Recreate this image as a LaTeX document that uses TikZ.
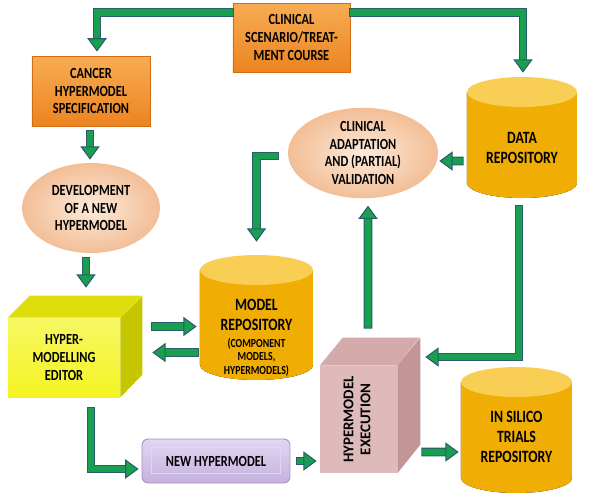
\documentclass[tikz,border=0pt]{standalone}
\usepackage{fontspec}
\setmainfont{Carlito}
\newfontfamily\boxfont[FakeStretch=0.8]{Carlito}
\usetikzlibrary{calc}
\usetikzlibrary{arrows.meta}
\usetikzlibrary{shapes}
\definecolor{FlowGreen}{RGB}{24,160,78}
\definecolor{FlowEdge}{RGB}{44,92,112}
\definecolor{SpecOrange}{RGB}{236,132,32}
\definecolor{SpecOrangeLight}{RGB}{248,172,84}
\definecolor{SpecEdge}{RGB}{208,108,20}
\definecolor{RepoGold}{RGB}{246,188,22}
\definecolor{RepoGoldDark}{RGB}{240,174,4}
\definecolor{RepoTop}{RGB}{248,206,84}
\definecolor{StepPeach}{RGB}{242,190,150}
\definecolor{StepPeachLight}{RGB}{253,234,218}
\definecolor{EditorFront}{RGB}{244,244,34}
\definecolor{EditorTop}{RGB}{222,222,12}
\definecolor{EditorSide}{RGB}{198,198,0}
\definecolor{ExecFront}{RGB}{222,186,186}
\definecolor{ExecTop}{RGB}{212,170,170}
\definecolor{ExecSide}{RGB}{194,150,150}
\definecolor{NewPurple}{RGB}{196,178,222}
\definecolor{NewPurpleLight}{RGB}{226,214,242}
\definecolor{NewEdge}{RGB}{166,144,198}
\newcommand{\px}{0.02cm}
\newcommand{\labfont}{\boxfont\bfseries\fontsize{8.8}{10.2}\selectfont}
\newcommand{\bigfont}{\boxfont\bfseries\fontsize{9.8}{11.4}\selectfont}
\newcommand{\tinyfont}{\boxfont\bfseries\fontsize{7}{7.4}\selectfont}
% a data store: name, centre x, top, bottom, half width, text, text shift
\newcommand{\drum}[7]{%
  \fill[left color=RepoGoldDark,middle color=RepoGold,right color=RepoGoldDark]
    ({#2-#5},{#3+15}) -- ({#2-#5},{#4-15})
    arc[start angle=180,end angle=0,x radius=#5,y radius=15]
    -- ({#2+#5},{#3+15}) -- cycle;
  \fill[RepoTop] (#2,{#3+15}) ellipse [x radius=#5,y radius=15];
  \node[inner sep=0,minimum width={2*#5*\px},minimum height={(#4-#3)*\px},
    label={[font=\bigfont,align=center,yshift=#7]center:{#6}}]
    (#1) at (#2,{(#3+#4)/2}) {};
}

\begin{document}
\begin{tikzpicture}[x=\px,y=-\px,
    specbox/.style={draw=SpecEdge,line width=0.5pt,top color=SpecOrangeLight,
      bottom color=SpecOrange,align=center,font=\labfont,inner sep=0},
    stepoval/.style={ellipse,inner color=StepPeachLight,outer color=StepPeach,
      align=center,font=\labfont,inner sep=0},
    flow/.style={line width=3.7pt,draw=FlowGreen,line join=miter,
      preaction={draw=FlowEdge,line width=4.9pt,arrows=-,shorten >=6pt,shorten <=-0.6pt},
      -{Triangle[length=7.6pt,width=11pt,fill=FlowGreen,color=FlowEdge,line width=0.6pt]}}]
  \useasboundingbox (0,0) rectangle (600,501);

  % Scenario and specification
  \node[specbox,minimum width=117*\px,minimum height=69*\px] (scen) at (291.5,37.5)
    {CLINICAL\\SCENARIO/TREAT-\\MENT COURSE};
  \node[specbox,minimum width=118*\px,minimum height=70*\px] (spec) at (91,91)
    {CANCER\\HYPERMODEL\\SPECIFICATION};

  % Ovals
  \node[stepoval,minimum width=150*\px,minimum height=80*\px] (clin) at (363,153)
    {CLINICAL\\ADAPTATION\\AND (PARTIAL)\\VALIDATION};
  \node[stepoval,minimum width=138*\px,minimum height=90*\px] (dev) at (91,208)
    {DEVELOPMENT\\OF A NEW\\HYPERMODEL};

  % Repositories
  \drum{data}{522}{77}{198}{55}{DATA\\REPOSITORY}{-6pt}
  \drum{model}{256.5}{255}{380}{56.5}{MODEL\\REPOSITORY\\[-1.5pt]\tinyfont\begin{tabular}[t]{@{}c@{}}(COMPONENT\\MODELS,\\HYPERMODELS)\end{tabular}}{-12pt}
  \drum{silico}{516.5}{367}{493}{55.5}{IN SILICO\\TRIALS\\REPOSITORY}{-4pt}

  % Editor block
  \node[top color=EditorFront!70!white,bottom color=EditorFront,minimum width=112*\px,
    minimum height=79*\px,font=\labfont,align=center,inner sep=0] (editor) at (64,357.5)
    {HYPER-\\MODELLING\\EDITOR};
  \fill[EditorTop] (editor.north west) -- ++(22,-22) -- ++(112,0) -- (editor.north east) -- cycle;
  \fill[EditorSide] (editor.north east) -- ++(22,-22) -- ++(0,79) -- (editor.south east) -- cycle;

  % Execution block
  \node[fill=ExecFront,minimum width=77*\px,minimum height=107*\px,inner sep=0,
    font=\bfseries\fontsize{8.5}{9.6}\selectfont] (exec) at (358.5,419.5)
    {\rotatebox{90}{\begin{tabular}{@{}c@{}}HYPERMODEL\\EXECUTION\end{tabular}}};
  \fill[ExecTop] (exec.north west) -- ++(23,-28) -- ++(77,0) -- (exec.north east) -- cycle;
  \fill[ExecSide] (exec.north east) -- ++(23,-28) -- ++(0,107) -- (exec.south east) -- cycle;

  % New hypermodel
  \node[draw=NewEdge,line width=0.5pt,rounded corners=3.5pt,top color=NewPurpleLight,
    bottom color=NewPurple,minimum width=148*\px,minimum height=44*\px,
    font=\labfont,inner sep=0] (nhm) at (216,461) {NEW HYPERMODEL};
  \draw[NewPurpleLight,line width=0.6pt]
    ($(nhm.north west)+(10,9)$) rectangle ($(nhm.south east)+(-10,-10)$);

  % Flows
  \draw[flow] ($(scen.north west)+(0,10)$) -| ($(spec.north)+(6,-4)$);
  \draw[flow] ($(scen.north east)+(0,10)$) -| ($(data.north)+(1,-4)$);
  \draw[flow] ($(spec.south)+(-1,5)$) -- ($(dev.north)+(-1,-3)$);
  \draw[flow] ($(dev.south)+(-5,5)$) -- ($(editor.north)+(22,-30)$);
  \draw[flow] ($(editor.east)+(32,-31)$) -- ($(model.west)+(-3,9)$);
  \draw[flow] ($(model.west)+(-2,35)$) -- ($(editor.east)+(32,-5)$);
  \draw[flow] ($(clin.west)+(-10,3)$) -| ($(model.north)+(0,-13)$);
  \draw[flow] ($(data.west)+(-4,23.5)$) -- ($(clin.east)+(1,8)$);
  \draw[flow] ($(exec.north)+(9.5,-38)$) -- ($(clin.south)+(5,7)$);
  \draw[flow] ($(data.south)+(-3,8)$) |- ($(exec.east)+(28,-62.5)$);
  \draw[flow] ($(editor.south)+(27,11)$) |- ($(nhm.west)+(-3,8)$);
  \draw[flow] ($(nhm.east)+(7,0)$) -- ($(exec.west |- nhm.east)+(-3,0)$);
  \draw[flow] ($(exec.east)+(25,32.5)$) -- ($(silico.west)+(-2,22)$);
\end{tikzpicture}
\end{document}
